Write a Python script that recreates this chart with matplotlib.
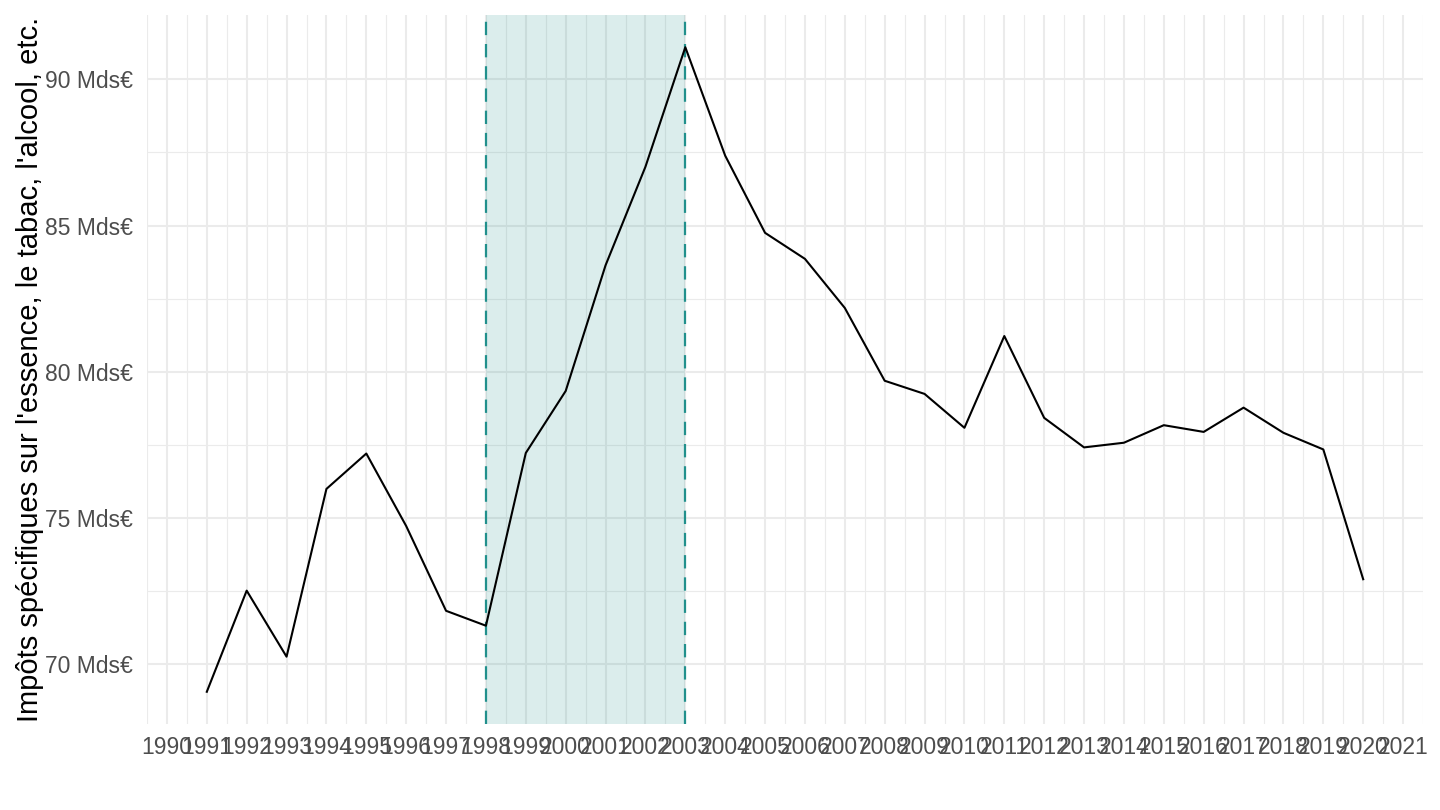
import matplotlib
matplotlib.use('Agg')
import matplotlib.pyplot as plt
import numpy as np

# yearly values (Mds EUR)
years = list(range(1991, 2021))
values = [69.05, 72.51, 70.25, 75.99, 77.20, 74.72, 71.82, 71.31, 77.22, 79.34,
          83.64, 87.01, 91.10, 87.39, 84.75, 83.86, 82.18, 79.69, 79.24, 78.08,
          81.22, 78.42, 77.41, 77.57, 78.17, 77.94, 78.77, 77.91, 77.34, 72.90]

# highlighted period
period_start = 1998
period_end = 2003

x_ticks = list(range(1990, 2022))
y_ticks = [70, 75, 80, 85, 90]
y_label = "Impôts spécifiques sur l'essence, le tabac, l'alcool, etc."

plt.rcParams['font.family'] = ['Liberation Sans', 'DejaVu Sans']

fig = plt.figure(figsize=(14.4, 8.1), dpi=100)
ax = fig.add_axes([147 / 1440, 1 - 724 / 810, 1276 / 1440, 709 / 810])

# ggplot-like 5% expansion
xr = years[-1] - years[0]
ax.set_xlim(years[0] - 0.05 * xr, years[-1] + 0.05 * xr)
yr = max(values) - min(values)
ax.set_ylim(min(values) - 0.05 * yr, max(values) + 0.05 * yr)

ax.set_xticks(x_ticks)
ax.set_xticklabels([str(y) for y in x_ticks])
ax.set_xticks(np.arange(1989.5, 2022, 1.0), minor=True)
ax.set_yticks(y_ticks)
ax.set_yticklabels([f"{v} Mds€" for v in y_ticks])
ax.set_yticks([72.5, 77.5, 82.5, 87.5], minor=True)

ax.set_axisbelow(True)
ax.grid(which='major', color='#EBEBEB', linewidth=1.5)
ax.grid(which='minor', color='#EBEBEB', linewidth=0.8)
for s in ax.spines.values():
    s.set_visible(False)
ax.tick_params(which='both', length=0)
ax.tick_params(axis='x', pad=9, labelsize=16.5, labelcolor='#4D4D4D')
ax.tick_params(axis='y', pad=10, labelsize=16.5, labelcolor='#4D4D4D')

teal = '#21908C'
ax.axvspan(period_start, period_end, color=teal, alpha=0.16, linewidth=0, zorder=1)
for xv in (period_start, period_end):
    ax.axvline(xv, color=teal, linewidth=1.6, linestyle=(0, (6, 4)), zorder=2)

ax.plot(years, values, color='black', linewidth=1.5, zorder=3)

ax.set_ylabel(y_label, fontsize=21, color='black')
ax.yaxis.set_label_coords(-0.0807, 0.5)

fig.savefig('out.png', dpi=100, facecolor='white')
